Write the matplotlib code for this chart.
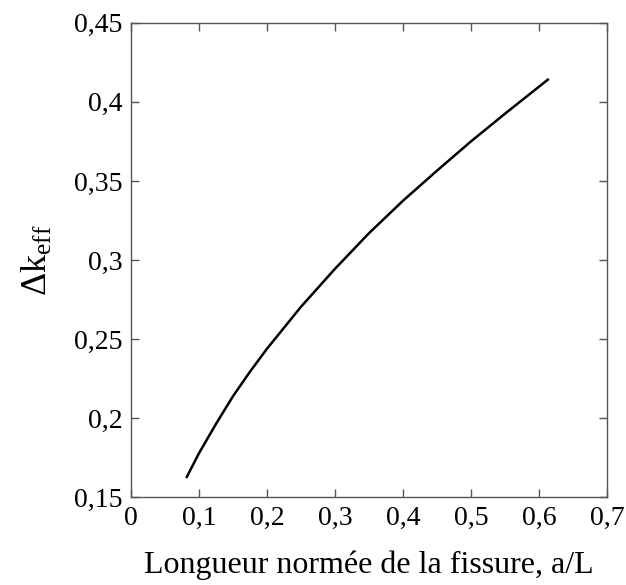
import matplotlib
matplotlib.use('Agg')
import matplotlib.pyplot as plt
from matplotlib.ticker import FuncFormatter

plt.rcParams['font.family'] = ['Liberation Serif', 'DejaVu Serif']
plt.rcParams['mathtext.fontset'] = 'custom'
plt.rcParams['mathtext.rm'] = 'Liberation Serif'
plt.rcParams['mathtext.it'] = 'Liberation Serif:italic'

# data
a_over_L = [0.082, 0.10, 0.125, 0.15, 0.175, 0.20, 0.25, 0.30, 0.35, 0.40,
            0.45, 0.50, 0.55, 0.613]
delta_keff = [0.163, 0.178, 0.1965, 0.214, 0.2295, 0.244, 0.2705, 0.2945, 0.317,
              0.3375, 0.3565, 0.375, 0.3925, 0.414]

x_ticks = [0, 0.1, 0.2, 0.3, 0.4, 0.5, 0.6, 0.7]
y_ticks = [0.15, 0.2, 0.25, 0.3, 0.35, 0.4, 0.45]


def comma_fmt(v, pos):
    s = ('%.2f' % v).rstrip('0').rstrip('.')
    return s.replace('.', ',')


fig = plt.figure(figsize=(6.26, 5.85), dpi=100)
ax = fig.add_axes([0.2093, 0.1496, 0.7603, 0.8116])

ax.plot(a_over_L, delta_keff, color='black', linewidth=1.8,
        solid_joinstyle='round')

ax.set_xlim(0, 0.7)
ax.set_ylim(0.15, 0.45)
ax.set_xticks(x_ticks)
ax.set_yticks(y_ticks)
ax.xaxis.set_major_formatter(FuncFormatter(comma_fmt))
ax.yaxis.set_major_formatter(FuncFormatter(comma_fmt))

ax.tick_params(direction='in', length=6, width=1, color='#555555',
               top=True, right=True, labelsize=20, pad=6)
for sp in ax.spines.values():
    sp.set_color('#555555')
    sp.set_linewidth(1)

ax.set_xlabel('Longueur normée de la fissure, a/L', fontsize=23, labelpad=14)
ax.set_ylabel(r'$\Delta\mathrm{k}_{\mathrm{eff}}$', fontsize=26, labelpad=14)

fig.savefig('out.png', dpi=100)
